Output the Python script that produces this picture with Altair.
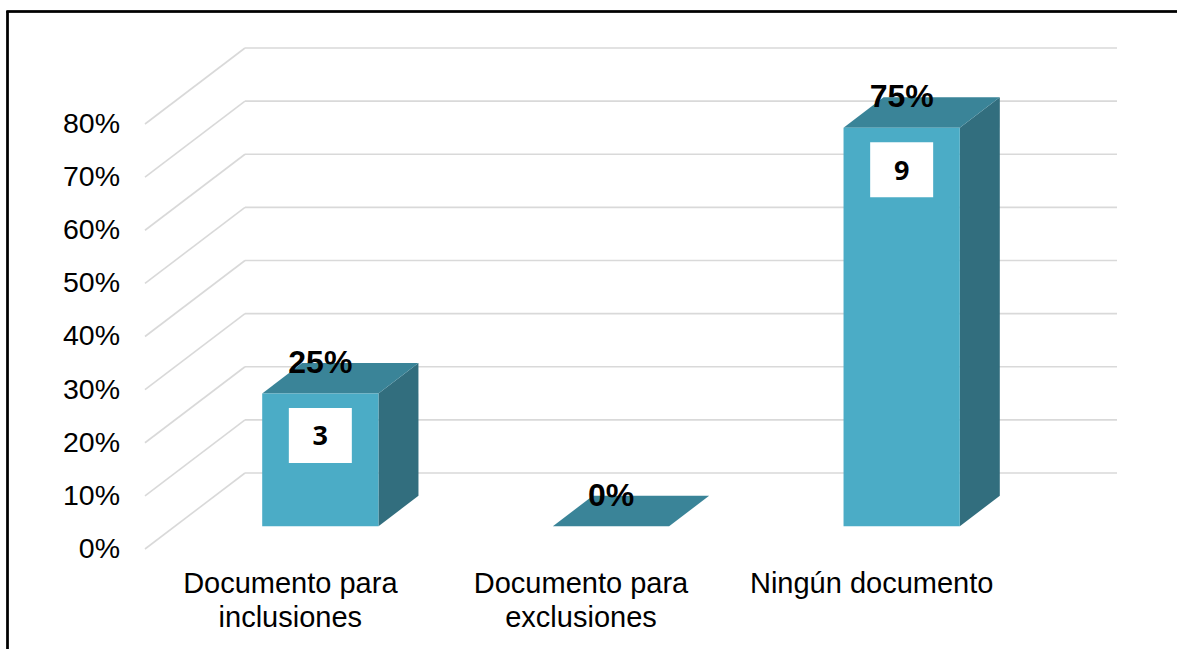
import altair as alt
import pandas as pd

# ---- data ----
categories = ["Documento para\ninclusiones", "Documento para\nexclusiones", "Ningún documento"]
percent = [25, 0, 75]
counts = [3, 0, 9]
y_ticks = [0, 10, 20, 30, 40, 50, 60, 70, 80]

# ---- 3D projection layout constants (in data units) ----
D = 100 / 290.67      # depth offset along x (category units)
DV = 76 / 5.313       # depth offset along y (percent units)
W = 0.2               # half bar width (gap width 150%)
d0, d1 = 0.3, 0.7     # bar front/back depth fraction

bars = pd.DataFrame({"cat": categories, "pct": percent, "count": counts})
bars["uc"] = [i + 0.5 for i in range(len(categories))]
bars["xl0"] = bars["uc"] - W + d0 * D
bars["xr0"] = bars["uc"] + W + d0 * D
bars["xc0"] = bars["uc"] + d0 * D
bars["yb0"] = d0 * DV
bars["yt0"] = bars["pct"] + d0 * DV
bars["yt1"] = bars["pct"] + d1 * DV
bars["label"] = bars["pct"].astype(str) + "%"
bars["zero"] = 0

faces = []
for d in (d0, d1):
    f = bars[["cat", "uc", "pct"]].copy()
    f["xl"] = f["uc"] - W + d * D
    f["xr"] = f["uc"] + W + d * D
    f["ytop"] = f["pct"] + d * DV
    f["ybot"] = d * DV
    faces.append(f)
faces = pd.concat(faces, ignore_index=True)

grid = pd.DataFrame({"v": y_ticks})
grid["vb"] = grid["v"] + DV
grid["x0"] = 0.0
grid["x1"] = D
grid["x2"] = 3 + D
grid["lab"] = grid["v"].astype(str) + "%"

XS = alt.Scale(domain=[0, 3 + D], nice=False, zero=False)
YS = alt.Scale(domain=[0, 80 + DV], nice=False, zero=False)

FONT = "Liberation Sans"
GRID_C = "#D9D9D9"
FRONT_C = "#4BACC6"
TOP_C = "#3A8498"
SIDE_C = "#326E7E"

diag = alt.Chart(grid).mark_rule(color=GRID_C, strokeWidth=1.6).encode(
    x=alt.X("x0:Q", scale=XS, axis=None),
    x2="x1:Q",
    y=alt.Y("v:Q", scale=YS, axis=None),
    y2="vb:Q",
)

back = alt.Chart(grid).mark_rule(color=GRID_C, strokeWidth=1.6).encode(
    x=alt.X("x1:Q", scale=XS, axis=None),
    x2="x2:Q",
    y=alt.Y("vb:Q", scale=YS, axis=None),
)

ylabels = alt.Chart(grid).mark_text(
    font=FONT, fontSize=28.5, color="#000000", align="right", baseline="middle", dx=-25
).encode(
    x=alt.X("x0:Q", scale=XS, axis=None),
    y=alt.Y("v:Q", scale=YS, axis=None),
    text="lab:N",
)

side = alt.Chart(faces).mark_area(orient="vertical", color=SIDE_C, opacity=1).encode(
    x=alt.X("xr:Q", scale=XS, axis=None),
    y=alt.Y("ytop:Q", scale=YS, axis=None),
    y2="ybot:Q",
    detail="cat:N",
)

top = alt.Chart(faces).mark_area(orient="horizontal", color=TOP_C, opacity=1).encode(
    x=alt.X("xl:Q", scale=XS, axis=None),
    x2="xr:Q",
    y=alt.Y("ytop:Q", scale=YS, axis=None),
    detail="cat:N",
)

front = alt.Chart(bars).mark_rect(color=FRONT_C).encode(
    x=alt.X("xl0:Q", scale=XS, axis=None),
    x2="xr0:Q",
    y=alt.Y("yb0:Q", scale=YS, axis=None),
    y2="yt0:Q",
)

box_shape = "M-1,-0.873H1V0.873H-1Z"
boxes = alt.Chart(bars).transform_filter("datum.count > 0").mark_point(
    shape=box_shape, size=3969, filled=True, color="#FFFFFF", opacity=1, yOffset=42
).encode(
    x=alt.X("xc0:Q", scale=XS, axis=None),
    y=alt.Y("yt0:Q", scale=YS, axis=None),
)

count_txt = alt.Chart(bars).transform_filter("datum.count > 0").mark_text(
    font="Open Sans", fontSize=27, fontWeight="bold", color="#000000",
    baseline="middle", align="center", yOffset=44
).encode(
    x=alt.X("xc0:Q", scale=XS, axis=None),
    y=alt.Y("yt0:Q", scale=YS, axis=None),
    text="count:Q",
)

pct_txt = alt.Chart(bars).mark_text(
    font=FONT, fontSize=32, fontWeight="bold", color="#000000",
    baseline="middle", align="center"
).encode(
    x=alt.X("xc0:Q", scale=XS, axis=None),
    y=alt.Y("yt1:Q", scale=YS, axis=None),
    text="label:N",
)

cat_txt = alt.Chart(bars).mark_text(
    font=FONT, fontSize=29, color="#000000", baseline="alphabetic", align="center",
    dy=44, lineBreak="\n", lineHeight=34
).encode(
    x=alt.X("uc:Q", scale=XS, axis=None),
    y=alt.Y("zero:Q", scale=YS, axis=None),
    text="cat:N",
)

border_left = alt.Chart(bars).mark_rule(color="#000000", strokeWidth=2).encode(
    x=alt.value(-137.5), y=alt.value(-36.5), y2=alt.value(620)
)
border_top = alt.Chart(bars).mark_rule(color="#000000", strokeWidth=2).encode(
    x=alt.value(-138.5), x2=alt.value(1050), y=alt.value(-36.5)
)

chart = alt.layer(
    diag, back, ylabels, side, top, front, boxes, count_txt, pct_txt, cat_txt,
    border_left, border_top
).properties(
    width=972, height=501,
    padding={"left": 145, "top": 48, "right": 60, "bottom": 100},
    autosize="none",
    background="#FFFFFF",
).configure_view(stroke=None)

chart.save("out.html", embed_options={"renderer": "svg", "actions": False})
